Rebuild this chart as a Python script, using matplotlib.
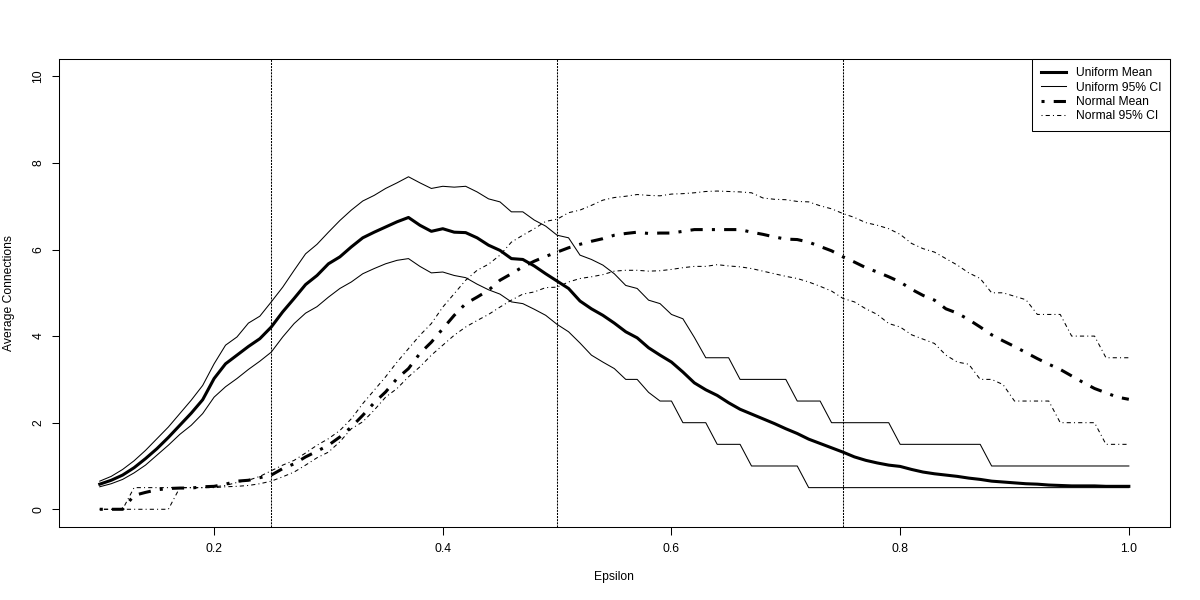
import numpy as np
import matplotlib
matplotlib.use("Agg")
import matplotlib.pyplot as plt

plt.rcParams['font.family'] = ['Liberation Sans', 'DejaVu Sans']

## epsilon grid (0.10 ... 1.00 by 0.01)
epsilon = np.round(np.arange(10, 101) / 100, 2)

## uniform distribution: mean and 95% CI
uniform_mean = [
    0.58, 0.67, 0.79, 0.96, 1.17, 1.40, 1.66, 1.94, 2.22, 2.53,
    3.02, 3.36, 3.56, 3.76, 3.94, 4.21, 4.56, 4.87, 5.19, 5.40,
    5.67, 5.83, 6.06, 6.27, 6.40, 6.52, 6.64, 6.74, 6.56, 6.42,
    6.48, 6.40, 6.39, 6.27, 6.10, 5.98, 5.79, 5.77, 5.62, 5.44,
    5.27, 5.10, 4.81, 4.63, 4.48, 4.30, 4.10, 3.96, 3.73, 3.56,
    3.40, 3.17, 2.92, 2.76, 2.63, 2.46, 2.31, 2.20, 2.09, 1.98,
    1.86, 1.75, 1.62, 1.52, 1.42, 1.32, 1.21, 1.13, 1.07, 1.02,
    0.99, 0.92, 0.86, 0.82, 0.79, 0.76, 0.72, 0.69, 0.65, 0.63,
    0.61, 0.59, 0.58, 0.56, 0.55, 0.54, 0.54, 0.54, 0.53, 0.53, 0.53]
uniform_upper = [
    0.65, 0.76, 0.92, 1.12, 1.36, 1.63, 1.90, 2.21, 2.52, 2.86,
    3.36, 3.79, 3.98, 4.30, 4.46, 4.79, 5.13, 5.52, 5.90, 6.12,
    6.40, 6.67, 6.91, 7.12, 7.25, 7.41, 7.54, 7.68, 7.54, 7.41,
    7.46, 7.44, 7.46, 7.33, 7.17, 7.10, 6.87, 6.87, 6.68, 6.54,
    6.33, 6.27, 5.87, 5.77, 5.64, 5.44, 5.17, 5.10, 4.83, 4.75,
    4.50, 4.40, 3.97, 3.50, 3.50, 3.50, 3.00, 3.00, 3.00, 3.00,
    3.00, 2.50, 2.50, 2.50, 2.00, 2.00, 2.00, 2.00, 2.00, 2.00,
    1.50, 1.50, 1.50, 1.50, 1.50, 1.50, 1.50, 1.50, 1.00, 1.00,
    1.00, 1.00, 1.00, 1.00, 1.00, 1.00, 1.00, 1.00, 1.00, 1.00, 1.00]
uniform_lower = [
    0.52, 0.59, 0.69, 0.84, 1.02, 1.25, 1.48, 1.73, 1.94, 2.21,
    2.59, 2.83, 3.02, 3.23, 3.42, 3.63, 3.98, 4.29, 4.53, 4.68,
    4.90, 5.10, 5.25, 5.44, 5.56, 5.67, 5.75, 5.79, 5.61, 5.46,
    5.48, 5.40, 5.35, 5.20, 5.07, 4.97, 4.79, 4.75, 4.62, 4.48,
    4.27, 4.10, 3.84, 3.56, 3.40, 3.25, 3.00, 3.00, 2.70, 2.50,
    2.50, 2.00, 2.00, 2.00, 1.50, 1.50, 1.50, 1.00, 1.00, 1.00,
    1.00, 1.00, 0.50, 0.50, 0.50, 0.50, 0.50, 0.50, 0.50, 0.50,
    0.50, 0.50, 0.50, 0.50, 0.50, 0.50, 0.50, 0.50, 0.50, 0.50,
    0.50, 0.50, 0.50, 0.50, 0.50, 0.50, 0.50, 0.50, 0.50, 0.50, 0.50]

## normal distribution: mean and 95% CI
normal_mean = [
    0.00, 0.00, 0.00, 0.32, 0.39, 0.45, 0.48, 0.49, 0.49, 0.52,
    0.53, 0.58, 0.65, 0.67, 0.73, 0.79, 0.94, 1.05, 1.21, 1.34,
    1.48, 1.67, 1.90, 2.17, 2.46, 2.71, 3.02, 3.25, 3.60, 3.86,
    4.17, 4.48, 4.75, 4.90, 5.06, 5.29, 5.44, 5.60, 5.73, 5.84,
    5.94, 6.04, 6.12, 6.19, 6.25, 6.33, 6.37, 6.40, 6.37, 6.38,
    6.38, 6.42, 6.46, 6.46, 6.46, 6.46, 6.46, 6.40, 6.35, 6.29,
    6.24, 6.23, 6.17, 6.07, 5.97, 5.83, 5.71, 5.58, 5.48, 5.37,
    5.25, 5.08, 4.94, 4.83, 4.63, 4.53, 4.38, 4.21, 4.03, 3.89,
    3.76, 3.62, 3.48, 3.35, 3.23, 3.08, 2.93, 2.79, 2.69, 2.59, 2.54]
normal_upper = [
    0.00, 0.00, 0.00, 0.50, 0.50, 0.50, 0.50, 0.50, 0.50, 0.50,
    0.52, 0.55, 0.62, 0.67, 0.76, 0.89, 1.02, 1.13, 1.30, 1.48,
    1.63, 1.82, 2.09, 2.44, 2.75, 3.06, 3.40, 3.71, 4.02, 4.29,
    4.67, 4.98, 5.29, 5.52, 5.66, 5.87, 6.17, 6.33, 6.48, 6.65,
    6.70, 6.85, 6.91, 7.02, 7.14, 7.20, 7.23, 7.27, 7.25, 7.24,
    7.28, 7.29, 7.31, 7.34, 7.35, 7.34, 7.33, 7.31, 7.19, 7.16,
    7.15, 7.11, 7.10, 7.01, 6.94, 6.83, 6.74, 6.62, 6.56, 6.48,
    6.35, 6.14, 6.02, 5.94, 5.79, 5.64, 5.46, 5.33, 5.00, 5.00,
    4.92, 4.84, 4.50, 4.50, 4.50, 4.00, 4.00, 4.00, 3.50, 3.50, 3.50]
normal_lower = [
    0.00, 0.00, 0.00, 0.00, 0.00, 0.00, 0.00, 0.50, 0.50, 0.50,
    0.50, 0.52, 0.53, 0.55, 0.59, 0.65, 0.75, 0.86, 1.02, 1.19,
    1.32, 1.56, 1.86, 2.02, 2.29, 2.59, 2.79, 3.06, 3.29, 3.56,
    3.79, 4.02, 4.21, 4.36, 4.50, 4.67, 4.83, 4.97, 5.02, 5.12,
    5.13, 5.25, 5.33, 5.37, 5.42, 5.50, 5.52, 5.52, 5.50, 5.51,
    5.54, 5.58, 5.61, 5.61, 5.65, 5.62, 5.60, 5.56, 5.50, 5.44,
    5.38, 5.33, 5.25, 5.15, 5.04, 4.87, 4.79, 4.63, 4.50, 4.29,
    4.21, 4.03, 3.93, 3.83, 3.56, 3.40, 3.35, 3.00, 3.00, 2.88,
    2.50, 2.50, 2.50, 2.50, 2.00, 2.00, 2.00, 2.00, 1.50, 1.50, 1.50]

ref_lines = [0.25, 0.5, 0.75]
legend_labels = ["Uniform Mean", "Uniform 95% CI", "Normal Mean", "Normal 95% CI"]

## plot (R base graphics look)
fig = plt.figure(figsize=(12, 6), dpi=100)
ax = fig.add_axes([58.6 / 1200, 73.4 / 600, 1111.4 / 1200, 467.6 / 600])

thick = 2.2
thin = 0.75
dotdash = (0, (1, 3, 4, 3))

h1, = ax.plot(epsilon, uniform_mean, color="black", lw=thick, solid_joinstyle="round")
h2, = ax.plot(epsilon, uniform_upper, color="black", lw=thin)
ax.plot(epsilon, uniform_lower, color="black", lw=thin)
h3, = ax.plot(epsilon, normal_mean, color="black", lw=thick, linestyle=dotdash)
h4, = ax.plot(epsilon, normal_upper, color="black", lw=thin, linestyle=dotdash)
ax.plot(epsilon, normal_lower, color="black", lw=thin, linestyle=dotdash)

for v in ref_lines:
    ax.axvline(v, color="black", lw=thin, linestyle=(0, (2, 1)))

ax.set_xlim(0.064, 1.036)
ax.set_ylim(-0.4, 10.4)
ax.set_xticks([0.2, 0.4, 0.6, 0.8, 1.0])
ax.set_xticklabels(["0.2", "0.4", "0.6", "0.8", "1.0"])
ax.set_yticks([0, 2, 4, 6, 8, 10])

for s in ax.spines.values():
    s.set_linewidth(thin)
ax.tick_params(axis="both", direction="out", length=5.4, width=thin,
               labelsize=8.75, colors="black")
ax.tick_params(axis="x", pad=6.5)
ax.tick_params(axis="y", pad=4.7, labelrotation=90)
for lab in ax.get_yticklabels():
    lab.set_va("center")

ax.set_xlabel("Epsilon", fontsize=8.75)
ax.xaxis.label.set_va("center")
ax.xaxis.set_label_coords(0.5, (526.6 - 577) / 467.6)
ax.set_ylabel("Average Connections", fontsize=8.75)
ax.yaxis.label.set_va("center")
ax.yaxis.set_label_coords((9 - 58.6) / 1111.4, 0.5)

leg = ax.legend([h1, h2, h3, h4], legend_labels, loc="upper right",
                bbox_to_anchor=(1, 1), borderaxespad=0, fontsize=8.75,
                fancybox=False, framealpha=1, edgecolor="black",
                handlelength=2.07, handletextpad=0.83, labelspacing=0.19,
                borderpad=0.69)
leg.get_frame().set_linewidth(thin)

fig.savefig("out.png", dpi=100)
